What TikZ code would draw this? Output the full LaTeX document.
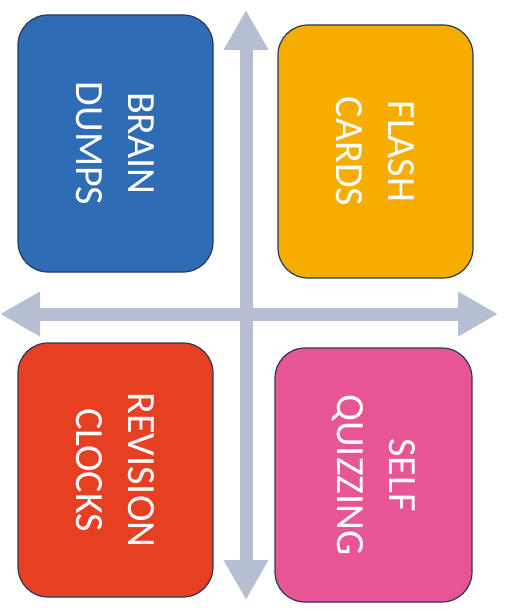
\documentclass[tikz,border=0pt]{standalone}
\usepackage{fontspec}
\setmainfont{Carlito}
\usetikzlibrary{arrows.meta}
\definecolor{axisgrey}{HTML}{B6BFD1}
\definecolor{edge}{HTML}{283859}
\definecolor{dumpblue}{HTML}{2E6DB5}
\definecolor{cardgold}{HTML}{F7AD00}
\definecolor{clockred}{HTML}{E63F22}
\definecolor{quizpink}{HTML}{E85595}

\begin{document}
\begin{tikzpicture}[
  x=1pt, y=-1pt,
  quad/.style={draw=edge, line width=1.2pt, rounded corners=30pt, rotate=-90,
    text=white, align=center, font=\fontsize{40}{52}\selectfont},
  axis/.style={axisgrey, line width=13pt,
    {Triangle[length=40pt,width=42pt]}-{Triangle[length=40pt,width=42pt]}},
]
\useasboundingbox (0,0) rectangle (511,609);

% the two axes
\coordinate (top) at (246,10);
\coordinate (bottom) at (246,600);
\coordinate (left) at (0,314);
\coordinate (right) at (498,314);
\draw[axis] (top) -- (bottom);
\draw[axis] (left) -- (right);

% the four quadrants (width/height swapped by the rotation)
\node[quad, fill=dumpblue, minimum width=257pt, minimum height=195pt] (dumps) at (115.5,143.5) {BRAIN\\DUMPS};
\node[quad, fill=cardgold, minimum width=253pt, minimum height=195pt] (cards) at (375.5,151.5) {FLASH\\CARDS};
\node[quad, fill=clockred, minimum width=254pt, minimum height=195pt] (clocks) at (115.5,470) {REVISION\\CLOCKS};
\node[quad, fill=quizpink, minimum width=254pt, minimum height=197pt] (quizzing) at (373.5,475) {SELF\\QUIZZING};

\end{tikzpicture}
\end{document}
